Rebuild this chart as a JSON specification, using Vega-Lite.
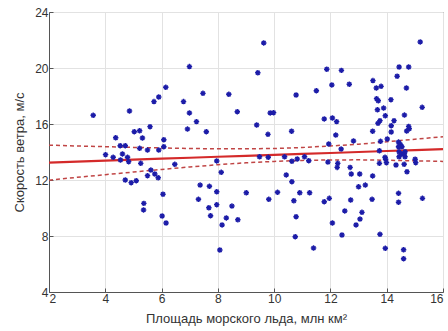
{
  "$schema": "https://vega.github.io/schema/vega-lite/v6.json",
  "autosize": {"type": "none"},
  "padding": {"left": 49, "top": 12, "right": 5, "bottom": 39},
  "width": 394,
  "height": 280,
  "background": "white",
  "config": {
    "font": "Liberation Sans",
    "view": {"stroke": "#555555", "strokeWidth": 1},
    "axis": {
      "labelFont": "Liberation Sans",
      "titleFont": "Liberation Sans",
      "labelFontSize": 12,
      "titleFontSize": 13,
      "titleFontWeight": "normal",
      "labelColor": "#333333",
      "titleColor": "#333333",
      "domainColor": "#555555",
      "tickColor": "#555555",
      "gridColor": "#e2e2e2",
      "gridWidth": 1
    }
  },
  "datasets": {
    "pts": [
      {"x": 3.57, "y": 16.62}, {"x": 4.01, "y": 13.81}, {"x": 4.28, "y": 13.62}, {"x": 4.37, "y": 15.02},
      {"x": 4.53, "y": 14.45}, {"x": 4.71, "y": 14.45}, {"x": 4.61, "y": 13.86}, {"x": 4.79, "y": 13.62},
      {"x": 4.54, "y": 13.43}, {"x": 4.83, "y": 13.31}, {"x": 4.86, "y": 16.93}, {"x": 5.03, "y": 15.45},
      {"x": 5.22, "y": 15.52}, {"x": 5.32, "y": 15.0}, {"x": 5.59, "y": 15.81}, {"x": 5.73, "y": 17.6},
      {"x": 5.9, "y": 17.93}, {"x": 6.15, "y": 18.62}, {"x": 6.08, "y": 14.88}, {"x": 6.08, "y": 14.38},
      {"x": 5.22, "y": 14.26}, {"x": 5.5, "y": 14.14}, {"x": 5.9, "y": 14.14}, {"x": 5.26, "y": 13.19},
      {"x": 6.47, "y": 13.12}, {"x": 5.62, "y": 12.71}, {"x": 5.5, "y": 12.31}, {"x": 5.76, "y": 12.43},
      {"x": 5.88, "y": 12.16}, {"x": 4.71, "y": 12.0}, {"x": 4.92, "y": 11.81}, {"x": 5.1, "y": 11.95},
      {"x": 6.05, "y": 10.98}, {"x": 5.37, "y": 10.33}, {"x": 5.36, "y": 9.86}, {"x": 6.02, "y": 9.43},
      {"x": 6.16, "y": 8.93},
      {"x": 6.78, "y": 17.6}, {"x": 6.99, "y": 20.1}, {"x": 6.99, "y": 16.79}, {"x": 6.92, "y": 15.64},
      {"x": 7.24, "y": 16.17}, {"x": 7.47, "y": 18.19}, {"x": 7.59, "y": 15.45}, {"x": 8.39, "y": 18.12},
      {"x": 8.69, "y": 16.88}, {"x": 9.42, "y": 19.66}, {"x": 9.63, "y": 21.79}, {"x": 9.38, "y": 15.93},
      {"x": 9.78, "y": 15.26}, {"x": 9.86, "y": 16.79}, {"x": 9.98, "y": 16.81}, {"x": 10.62, "y": 15.48},
      {"x": 10.78, "y": 18.07}, {"x": 7.96, "y": 13.36}, {"x": 8.12, "y": 12.55}, {"x": 9.48, "y": 13.66},
      {"x": 9.79, "y": 13.62}, {"x": 10.37, "y": 13.66}, {"x": 10.82, "y": 13.5}, {"x": 11.08, "y": 13.66},
      {"x": 10.63, "y": 13.34}, {"x": 10.43, "y": 12.36}, {"x": 10.63, "y": 11.88}, {"x": 7.37, "y": 11.64},
      {"x": 7.7, "y": 11.55}, {"x": 7.96, "y": 11.16}, {"x": 9.01, "y": 11.09}, {"x": 10.12, "y": 11.12},
      {"x": 10.91, "y": 11.09}, {"x": 7.31, "y": 10.62}, {"x": 9.81, "y": 10.62}, {"x": 10.7, "y": 10.52},
      {"x": 7.96, "y": 10.24}, {"x": 7.68, "y": 10.02}, {"x": 8.5, "y": 10.14}, {"x": 7.74, "y": 9.45},
      {"x": 8.3, "y": 9.29}, {"x": 8.71, "y": 9.16}, {"x": 8.15, "y": 8.79}, {"x": 10.78, "y": 9.38},
      {"x": 10.75, "y": 7.95}, {"x": 8.07, "y": 7.0}, {"x": 11.23, "y": 13.38},
      {"x": 15.19, "y": 21.86}, {"x": 11.87, "y": 19.91}, {"x": 12.39, "y": 19.83}, {"x": 14.44, "y": 20.07},
      {"x": 14.78, "y": 20.07}, {"x": 14.37, "y": 19.41}, {"x": 13.51, "y": 19.1}, {"x": 12.05, "y": 18.79},
      {"x": 12.67, "y": 18.84}, {"x": 13.63, "y": 18.57}, {"x": 13.8, "y": 18.69}, {"x": 14.7, "y": 18.57},
      {"x": 11.5, "y": 18.38}, {"x": 13.64, "y": 17.81}, {"x": 13.7, "y": 17.66}, {"x": 14.15, "y": 17.74},
      {"x": 13.89, "y": 17.14}, {"x": 13.67, "y": 17.02}, {"x": 15.26, "y": 17.19}, {"x": 13.95, "y": 16.59},
      {"x": 14.63, "y": 16.64}, {"x": 11.78, "y": 16.36}, {"x": 12.07, "y": 16.43}, {"x": 12.22, "y": 16.17},
      {"x": 13.76, "y": 16.24}, {"x": 13.69, "y": 16.05}, {"x": 14.26, "y": 16.24}, {"x": 14.16, "y": 15.88},
      {"x": 14.16, "y": 15.43}, {"x": 13.5, "y": 15.48}, {"x": 14.78, "y": 15.83}, {"x": 14.8, "y": 15.66},
      {"x": 14.71, "y": 15.5}, {"x": 12.19, "y": 15.21}, {"x": 14.02, "y": 14.93}, {"x": 12.82, "y": 14.79},
      {"x": 13.78, "y": 14.76}, {"x": 11.94, "y": 14.57}, {"x": 14.42, "y": 14.71}, {"x": 14.48, "y": 14.55},
      {"x": 14.54, "y": 14.38}, {"x": 14.42, "y": 14.38}, {"x": 12.38, "y": 14.21}, {"x": 13.74, "y": 14.09},
      {"x": 14.44, "y": 14.02}, {"x": 14.51, "y": 13.86}, {"x": 14.62, "y": 13.86}, {"x": 14.65, "y": 14.02},
      {"x": 14.44, "y": 13.66}, {"x": 14.65, "y": 13.66}, {"x": 13.96, "y": 13.48}, {"x": 13.94, "y": 13.62},
      {"x": 13.74, "y": 13.19}, {"x": 13.99, "y": 13.24}, {"x": 14.33, "y": 13.07}, {"x": 14.62, "y": 13.12},
      {"x": 15.01, "y": 13.48}, {"x": 15.03, "y": 13.24}, {"x": 14.72, "y": 12.59}, {"x": 13.5, "y": 12.29},
      {"x": 11.91, "y": 13.28}, {"x": 12.26, "y": 13.19}, {"x": 12.24, "y": 12.9}, {"x": 12.7, "y": 12.9},
      {"x": 12.74, "y": 12.43}, {"x": 13.04, "y": 12.43}, {"x": 11.26, "y": 11.09}, {"x": 13.0, "y": 11.52},
      {"x": 13.24, "y": 11.64}, {"x": 11.78, "y": 10.45}, {"x": 11.96, "y": 10.69}, {"x": 12.72, "y": 10.57},
      {"x": 13.48, "y": 10.62}, {"x": 14.42, "y": 11.05}, {"x": 14.42, "y": 10.41}, {"x": 15.27, "y": 10.69},
      {"x": 12.51, "y": 9.79}, {"x": 13.12, "y": 9.69}, {"x": 13.05, "y": 9.21}, {"x": 12.07, "y": 8.93},
      {"x": 12.91, "y": 8.79}, {"x": 12.41, "y": 8.07}, {"x": 13.76, "y": 8.12}, {"x": 11.4, "y": 7.14},
      {"x": 13.95, "y": 7.12}, {"x": 14.6, "y": 7.02}, {"x": 14.6, "y": 6.38}
    ],
    "fit": [
      {"x": 2, "fit": 13.24, "lo": 11.99, "hi": 14.49},
      {"x": 3, "fit": 13.31, "lo": 12.19, "hi": 14.43},
      {"x": 4, "fit": 13.38, "lo": 12.38, "hi": 14.38},
      {"x": 5, "fit": 13.45, "lo": 12.57, "hi": 14.33},
      {"x": 6, "fit": 13.52, "lo": 12.75, "hi": 14.29},
      {"x": 7, "fit": 13.59, "lo": 12.93, "hi": 14.25},
      {"x": 8, "fit": 13.66, "lo": 13.09, "hi": 14.23},
      {"x": 9, "fit": 13.73, "lo": 13.23, "hi": 14.23},
      {"x": 10, "fit": 13.79, "lo": 13.33, "hi": 14.25},
      {"x": 11, "fit": 13.86, "lo": 13.4, "hi": 14.32},
      {"x": 12, "fit": 13.93, "lo": 13.43, "hi": 14.43},
      {"x": 13, "fit": 14.0, "lo": 13.44, "hi": 14.56},
      {"x": 14, "fit": 14.07, "lo": 13.41, "hi": 14.73},
      {"x": 15, "fit": 14.14, "lo": 13.37, "hi": 14.91},
      {"x": 16, "fit": 14.21, "lo": 13.33, "hi": 15.09}
    ]
  },
  "layer": [
    {
      "data": {"name": "fit"},
      "mark": {"type": "line", "color": "#c04545", "strokeWidth": 1.5, "strokeDash": [4, 3]},
      "encoding": {
        "x": {"field": "x", "type": "quantitative", "scale": {"domain": [2, 16], "nice": false},
          "axis": {"values": [2, 4, 6, 8, 10, 12, 14, 16], "title": "Площадь морского льда, млн км²", "tickSize": -4, "labelPadding": 5, "titlePadding": 8, "grid": true}},
        "y": {"field": "hi", "type": "quantitative", "scale": {"domain": [4, 24], "nice": false},
          "axis": {"values": [4, 8, 12, 16, 20, 24], "title": "Скорость ветра, м/с", "tickSize": -4, "labelPadding": 5, "titlePadding": 8, "grid": true}}
      }
    },
    {
      "data": {"name": "fit"},
      "mark": {"type": "line", "color": "#c04545", "strokeWidth": 1.5, "strokeDash": [4, 3]},
      "encoding": {
        "x": {"field": "x", "type": "quantitative"},
        "y": {"field": "lo", "type": "quantitative"}
      }
    },
    {
      "data": {"name": "fit"},
      "mark": {"type": "line", "color": "#d42a2a", "strokeWidth": 2.2},
      "encoding": {
        "x": {"field": "x", "type": "quantitative"},
        "y": {"field": "fit", "type": "quantitative"}
      }
    },
    {
      "data": {"name": "pts"},
      "mark": {"type": "point", "shape": "M-1,0L1,0M0,-1L0,1M-0.7,-0.7L0.7,0.7M-0.7,0.7L0.7,-0.7", "filled": false, "color": "#1c1ca8", "strokeWidth": 1.4, "size": 30, "opacity": 1},
      "encoding": {
        "x": {"field": "x", "type": "quantitative"},
        "y": {"field": "y", "type": "quantitative"}
      }
    }
  ]
}
